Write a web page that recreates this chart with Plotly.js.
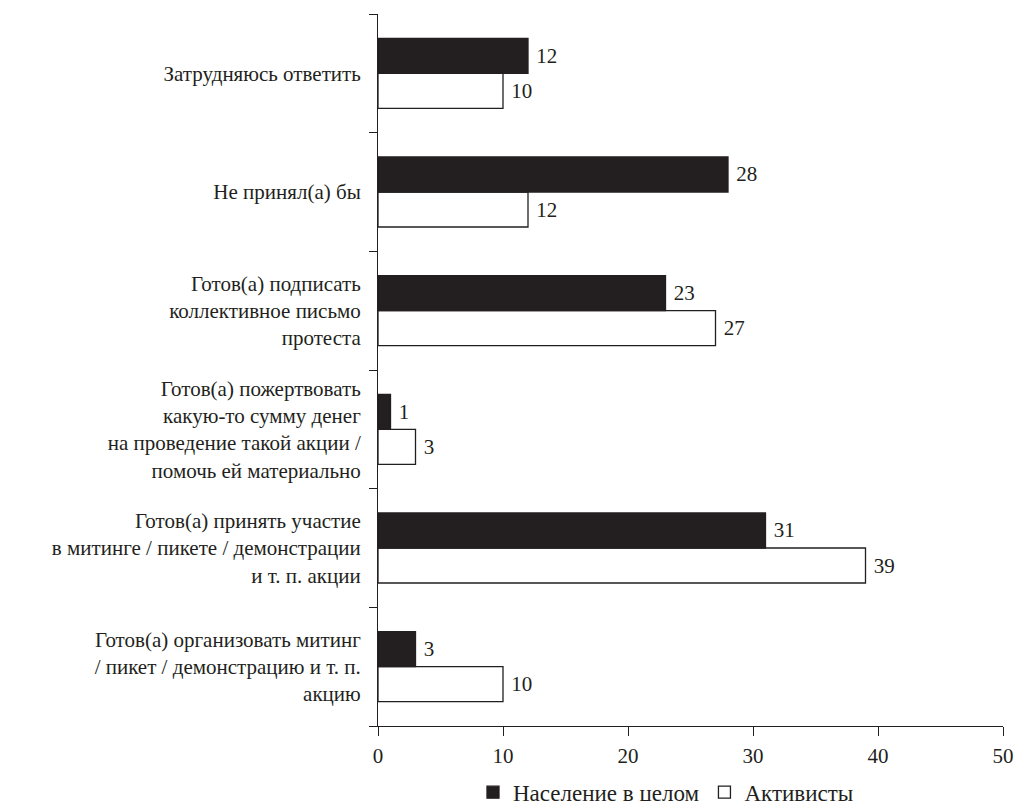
<!DOCTYPE html>
<html>
<head>
<meta charset="utf-8">
<script src="https://cdn.plot.ly/plotly-3.0.1.min.js"></script>
<style>html,body{margin:0;padding:0;background:#fff;}#chart{width:1017px;height:801px;}</style>
</head>
<body>
<div id="chart"></div>
<script>
// categories bottom to top
const categories = [
  "Готов(а) организовать митинг<br>/ пикет / демонстрацию и т. п.<br>акцию",
  "Готов(а) принять участие<br>в митинге / пикете / демонстрации<br>и т. п. акции",
  "Готов(а) пожертвовать<br>какую-то сумму денег<br>на проведение такой акции /<br>помочь ей материально",
  "Готов(а) подписать<br>коллективное письмо<br>протеста",
  "Не принял(а) бы",
  "Затрудняюсь ответить"
];
const population = [3, 31, 1, 23, 28, 12];
const activists = [10, 39, 3, 27, 12, 10];
const xTicks = [0, 10, 20, 30, 40, 50];

const serif = "Liberation Serif";
const ink = "#231f20";
const pad = "\u00a0";

const traces = [
  {
    type: "bar", orientation: "h", name: "Активисты",
    y: categories, x: activists,
    marker: {color: "#ffffff", line: {color: ink, width: 1.3}},
    text: activists.map(v => pad + v), textposition: "outside",
    textfont: {family: serif, size: 21, color: ink},
    cliponaxis: false
  },
  {
    type: "bar", orientation: "h", name: "Население в целом",
    y: categories, x: population,
    marker: {color: ink, line: {color: ink, width: 1.3}},
    text: population.map(v => pad + v), textposition: "outside",
    textfont: {family: serif, size: 21, color: ink},
    cliponaxis: false
  }
];

const layout = {
  width: 1017, height: 801,
  margin: {l: 378, r: 14, t: 14, b: 75, autoexpand: false},
  paper_bgcolor: "#fff", plot_bgcolor: "#fff",
  font: {family: serif, size: 21, color: ink},
  barmode: "group",
  bargap: 0.41,
  bargroupgap: 0,
  showlegend: true,
  legend: {
    orientation: "h", traceorder: "reversed",
    xref: "paper", yref: "paper",
    x: 0.152, xanchor: "left", y: -0.093, yanchor: "middle",
    font: {family: serif, size: 23, color: ink},
    itemwidth: 30
  },
  xaxis: {
    range: [0, 50], tickvals: xTicks, ticktext: xTicks.map(String),
    ticks: "outside", ticklen: 9, tickcolor: ink, tickwidth: 1,
    showline: true, linecolor: ink, linewidth: 1,
    showgrid: false, zeroline: false,
    ticklabelstandoff: 2,
    tickfont: {family: serif, size: 21, color: ink}
  },
  yaxis: {
    type: "category", range: [-0.5, 5.5],
    tickson: "boundaries",
    ticks: "outside", ticklen: 8, tickcolor: ink, tickwidth: 1,
    showline: true, linecolor: ink, linewidth: 1,
    showgrid: false, zeroline: false,
    ticklabelstandoff: 12,
    tickfont: {family: serif, size: 21, color: ink}
  }
};

Plotly.newPlot("chart", traces, layout, {displayModeBar: false, staticPlot: true});
</script>
</body>
</html>
